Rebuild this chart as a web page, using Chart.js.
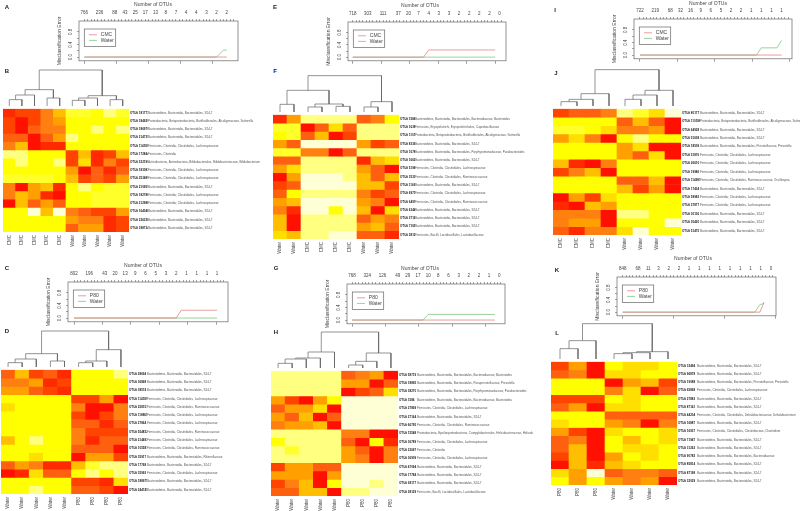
<!DOCTYPE html>
<html>
<head>
<meta charset="utf-8">
<script src="https://cdn.jsdelivr.net/npm/chart.js@4/dist/chart.umd.js"></script>
<style>
html, body { margin: 0; background: #fff; overflow: hidden; }
#page { position: relative; width: 800px; height: 511px; overflow: hidden; }
canvas { position: absolute; }
.letter { position: absolute; font: bold 6px "Liberation Sans"; color: #222; transform: translate(-50%, -50%); }
.otus { position: absolute; font: 5px "Liberation Sans"; color: #444; transform: translate(-50%, -50%); white-space: nowrap; }
</style>
</head>
<body>
<div id="page"></div>
<script>
// heat.colors(12), level 0 is red, level 8 is yellow, level 11 is nearly white
const heatPalette = ['#FF1000', '#FF2A00', '#FF4400', '#FF6010', '#FF8010', '#FF9F00', '#FFBF00', '#FFDF00', '#FFFF00', '#FFFF2A', '#FFFF80', '#FFFFD5'];

const S247 = 'Bacteroidetes, Bacteroidia, Bacteroidales, S24-7';
const LACHNO = 'Firmicutes, Clostridia, Clostridiales, Lachnospiraceae';
const RUMINO = 'Firmicutes, Clostridia, Clostridiales, Ruminococcaceae';
const SUTTER = 'Proteobacteria, Betaproteobacteria, Burkholderiales, Alcaligenaceae, Sutterella';
const BACTER = 'Bacteroidetes, Bacteroidia, Bacteroidales, Bacteroidaceae, Bacteroides';
const LACTO = 'Firmicutes, Bacilli, Lactobacillales, Lactobacillaceae';
const PREVO = 'Bacteroidetes, Bacteroidia, Bacteroidales, Prevotellaceae, Prevotella';
const PARA = 'Bacteroidetes, Bacteroidia, Bacteroidales, Porphyromonadaceae, Parabacteroides';

// misclassification panels: x is the threshold index
const otuAtA = [0, 4.5, 9, 12, 15, 18, 21, 24, 27, 30, 33, 36, 39, 42];
const otuAtE = [0, 4.5, 9, 13.5, 16.5, 19.5, 22.5, 25.5, 28.5, 31.5, 34.5, 37.5, 40.5, 43.5];
const otuAtK = [0, 4.5, 7.5, 10.5, 13.5, 16.5, 19.5, 22.5, 25.5, 28.5, 31.5, 34.5, 37.5, 40.5, 43.5];

const otusA = [766, 236, 88, 43, 25, 17, 13, 8, 7, 4, 4, 3, 2, 2];
const stepsA = [0, 39, 41, 42];
const cmcA = [0, 0, 0, 0];
const waterA = [0, 0, 0.22, 0.22];

const otusC = [802, 196, 43, 20, 13, 9, 6, 5, 3, 2, 1, 1, 1, 1];
const stepsC = [0, 30, 31.5, 42];
const p80C = [0, 0, 0.25, 0.25];
const waterC = [0, 0, 0, 0];

const otusE = [718, 303, 111, 37, 20, 7, 4, 3, 3, 2, 2, 2, 2, 0];
const stepsE = [0, 21, 22.5, 42.2];
const cmcE = [0, 0, 0.235, 0.235];
const waterE = [0, 0, 0, 0];

const otusG = [768, 324, 126, 49, 29, 17, 10, 8, 6, 3, 2, 2, 1, 0];
const stepsG = [0, 21, 22.5, 42.2];
const p80G = [0, 0, 0, 0];
const waterG = [0, 0, 0.18, 0.18];

const otusI = [722, 219, 68, 32, 16, 9, 6, 5, 2, 2, 1, 1, 1, 1];
const stepsI = [0, 34.6, 36, 40.7, 42];
const cmcI = [0, 0, 0, 0, 0];
const waterI = [0, 0, 0.23, 0.23, 0.47];

const otusK = [848, 68, 11, 3, 2, 2, 1, 1, 1, 1, 1, 1, 1, 1, 0];
const stepsK = [0, 38.8, 40.3, 41.5];
const p80K = [0, 0, 0, 0.33];
const waterK = [0, 0, 0.25, 0.28];

// heatmap B
const samplesB = ['CMC', 'CMC', 'CMC', 'CMC', 'CMC', 'Water', 'Water', 'Water', 'Water', 'Water'];
const idsB = ['OTU# 181777', 'OTU# 184920', 'OTU# 186970', 'OTU# 214739', 'OTU# 114180', 'OTU# 172844', 'OTU# 532190', 'OTU# 183083', 'OTU# 253480', 'OTU# 210950', 'OTU# 182786', 'OTU# 212988', 'OTU# 164048', 'OTU# 226338', 'OTU# 188734'];
const taxaB = [S247, SUTTER, S247, S247, LACHNO, 'Firmicutes, Clostridia', 'Actinobacteria, Actinobacteria, Bifidobacteriales, Bifidobacteriaceae, Bifidobacterium', LACHNO, LACHNO, S247, LACHNO, LACHNO, S247, S247, S247];
const levelsB = [
  [1, 2, 2, 4, 6, 9, 9, 8, 10, 9],
  [2, 0, 2, 4, 5, 8, 8, 8, 8, 8],
  [2, 0, 3, 4, 4, 8, 8, 10, 8, 10],
  [3, 3, 0, 3, 5, 10, 8, 8, 8, 8],
  [4, 6, 0, 1, 1, 8, 8, 8, 8, 8],
  [10, 10, 8, 8, 8, 2, 6, 1, 2, 6],
  [8, 10, 8, 8, 10, 2, 7, 1, 4, 2],
  [8, 8, 8, 8, 8, 5, 0, 3, 1, 3],
  [9, 9, 9, 9, 8, 6, 2, 3, 2, 5],
  [4, 0, 5, 6, 1, 8, 10, 8, 9, 9],
  [4, 6, 5, 1, 0, 8, 8, 9, 9, 9],
  [0, 6, 3, 5, 3, 8, 8, 9, 9, 9],
  [8, 8, 11, 6, 11, 4, 3, 2, 2, 5],
  [8, 8, 8, 8, 8, 5, 4, 4, 1, 2],
  [8, 8, 8, 8, 8, 3, 5, 5, 1, 2]
];
const mergesB = [[-1, -2, 19], [1, -3, 33], [-4, -5, 24], [2, 3, 49], [-6, -7, 17], [5, -8, 24], [-9, -10, 19], [6, 7, 31], [4, 8, 108]];

// heatmap D
const samplesD = ['Water', 'Water', 'Water', 'Water', 'Water', 'P80', 'P80', 'P80', 'P80'];
const idsD = ['OTU# 28694', 'OTU# 36868', 'OTU# 38574', 'OTU# 114181', 'OTU# 258151', 'OTU# 118861', 'OTU# 27864', 'OTU# 554832', 'OTU# 214497', 'OTU# 105581', 'OTU# 35917', 'OTU# 17768', 'OTU# 35993', 'OTU# 188975', 'OTU# 244745'];
const taxaD = [S247, S247, S247, LACHNO, RUMINO, LACHNO, LACHNO, RUMINO, LACHNO, RUMINO, 'Bacteroidetes, Bacteroidia, Bacteroidales, Rikenellaceae', S247, LACHNO, S247, S247];
const levelsD = [
  [3, 6, 2, 3, 1, 8, 8, 8, 10],
  [4, 4, 5, 1, 2, 8, 8, 8, 8],
  [5, 5, 3, 2, 1, 8, 8, 8, 8],
  [8, 8, 8, 8, 8, 2, 2, 5, 0],
  [7, 8, 8, 8, 8, 4, 0, 0, 4],
  [8, 8, 8, 8, 8, 2, 0, 2, 4],
  [8, 8, 8, 8, 8, 3, 3, 1, 3],
  [8, 8, 8, 8, 8, 4, 2, 2, 2],
  [6, 8, 10, 8, 8, 4, 1, 3, 3],
  [8, 8, 8, 8, 8, 3, 3, 3, 0],
  [8, 8, 7, 8, 8, 0, 5, 5, 2],
  [3, 5, 4, 1, 1, 6, 9, 10, 10],
  [0, 1, 7, 3, 3, 8, 10, 8, 10],
  [8, 8, 8, 8, 8, 2, 2, 1, 7],
  [8, 8, 10, 8, 8, 3, 3, 2, 0]
];
const mergesD = [[-1, -2, 13], [1, -3, 24], [-4, -5, 18], [2, 3, 40], [-6, -7, 13], [5, -8, 18], [6, -9, 52], [4, 7, 108]];

// heatmap F
const samplesF = ['Water', 'Water', 'CMC', 'CMC', 'CMC', 'CMC', 'Water', 'Water', 'Water'];
const idsF = ['OTU# 1584', 'OTU# 16387', 'OTU# 110186', 'OTU# 83360', 'OTU# 167874', 'OTU# 16628', 'OTU# 51948', 'OTU# 35301', 'OTU# 11662', 'OTU# 69711', 'OTU# 64970', 'OTU# 63448', 'OTU# 27164', 'OTU# 71658', 'OTU# 28129'];
const taxaF = [BACTER, 'Firmicutes, Erysipelotrichi, Erysipelotrichales, Coprobacillaceae', SUTTER, S247, PARA, S247, LACHNO, RUMINO, S247, LACHNO, RUMINO, S247, S247, S247, LACTO];
const levelsF = [
  [1, 5, 10, 10, 10, 10, 3, 4, 8],
  [9, 9, 0, 3, 7, 3, 10, 10, 10],
  [8, 9, 3, 6, 0, 2, 10, 10, 10],
  [5, 3, 11, 11, 11, 11, 5, 2, 3],
  [9, 9, 4, 4, 0, 3, 10, 10, 10],
  [3, 3, 10, 10, 10, 10, 1, 6, 7],
  [5, 7, 10, 10, 10, 10, 5, 3, 0],
  [0, 5, 11, 11, 11, 10, 6, 3, 6],
  [2, 3, 11, 11, 11, 11, 6, 6, 2],
  [3, 8, 10, 10, 10, 10, 4, 2, 3],
  [5, 6, 11, 11, 11, 11, 5, 4, 0],
  [4, 1, 11, 11, 8, 11, 6, 0, 7],
  [6, 0, 10, 10, 10, 10, 3, 5, 4],
  [6, 0, 10, 10, 10, 10, 5, 6, 3],
  [7, 6, 10, 10, 11, 11, 3, 3, 1]
];
const mergesF = [[-1, -2, 23], [-3, -4, 15], [-5, -6, 17], [2, 3, 24], [1, 4, 65], [-7, -8, 15], [6, -9, 31], [5, 7, 109]];

// heatmap H
const samplesH = ['Water', 'Water', 'Water', 'Water', 'Water', 'P80', 'P80', 'P80', 'P80'];
const idsH = ['OTU# 58719', 'OTU# 18895', 'OTU# 38270', 'OTU# 1584', 'OTU# 27869', 'OTU# 27164', 'OTU# 66795', 'OTU# 15548', 'OTU# 36789', 'OTU# 23697', 'OTU# 36909', 'OTU# 47094', 'OTU# 17784', 'OTU# 28177', 'OTU# 28129'];
const taxaH = [BACTER, 'Bacteroidetes, Bacteroidia, Bacteroidales, Paraprevotellaceae, Prevotella', PARA, BACTER, LACHNO, S247, RUMINO, 'Proteobacteria, Epsilonproteobacteria, Campylobacterales, Helicobacteraceae, Helicobacter', LACHNO, 'Firmicutes, Clostridia', LACHNO, S247, S247, S247, LACTO];
const levelsH = [
  [10, 10, 10, 10, 10, 3, 4, 5, 0],
  [10, 10, 10, 10, 10, 5, 5, 0, 3],
  [10, 10, 10, 10, 10, 0, 2, 3, 7],
  [5, 2, 0, 5, 8, 11, 11, 11, 11],
  [3, 5, 5, 7, 0, 11, 11, 11, 11],
  [5, 3, 6, 0, 3, 11, 11, 11, 11],
  [4, 5, 5, 6, 0, 11, 11, 11, 11],
  [10, 10, 10, 10, 10, 4, 4, 0, 0],
  [8, 10, 10, 10, 10, 3, 0, 8, 1],
  [10, 9, 10, 10, 10, 5, 3, 0, 4],
  [10, 10, 10, 10, 10, 5, 4, 0, 4],
  [2, 5, 5, 3, 3, 11, 11, 11, 11],
  [5, 5, 5, 0, 5, 11, 11, 11, 11],
  [2, 4, 6, 0, 8, 11, 11, 10, 11],
  [3, 3, 6, 6, 0, 10, 10, 11, 11]
];
const mergesH = [[-1, -2, 14], [1, -3, 27], [2, -4, 30], [3, -5, 48], [-6, -7, 9], [5, -8, 20], [6, -9, 45], [4, 7, 108]];

// heatmap J
const samplesJ = ['CMC', 'CMC', 'CMC', 'CMC', 'Water', 'Water', 'Water', 'Water'];
const idsJ = ['OTU# 80177', 'OTU# 110186', 'OTU# 64928', 'OTU# 51608', 'OTU# 18509', 'OTU# 51876', 'OTU# 26610', 'OTU# 19986', 'OTU# 114997', 'OTU# 17404', 'OTU# 59983', 'OTU# 27877', 'OTU# 30136', 'OTU# 30420', 'OTU# 51475'];
const taxaJ = [S247, SUTTER, S247, S247, PREVO, LACHNO, LACHNO, LACHNO, 'Firmicutes, Clostridia, Clostridiales, Ruminococcaceae, Oscillospira', S247, LACHNO, LACHNO, S247, S247, S247];
const levelsJ = [
  [2, 3, 3, 4, 10, 9, 7, 11],
  [8, 8, 8, 8, 3, 6, 3, 0],
  [9, 9, 8, 7, 4, 4, 5, 0],
  [5, 7, 4, 0, 8, 10, 8, 8],
  [8, 8, 8, 8, 5, 7, 0, 0],
  [8, 8, 8, 8, 5, 3, 7, 0],
  [6, 1, 0, 4, 8, 8, 8, 8],
  [2, 4, 6, 0, 8, 8, 8, 8],
  [8, 8, 8, 8, 3, 3, 6, 0],
  [8, 8, 8, 8, 6, 2, 5, 0],
  [0, 5, 2, 7, 8, 8, 8, 8],
  [1, 0, 6, 5, 8, 8, 8, 8],
  [4, 4, 4, 0, 10, 10, 8, 8],
  [4, 5, 5, 0, 8, 8, 8, 11],
  [3, 1, 4, 4, 7, 11, 8, 8]
];
const mergesJ = [[-1, -2, 13], [1, -3, 20], [2, -4, 37], [-5, -6, 20], [4, -7, 33], [5, -8, 47], [3, 6, 109]];

// heatmap L
const samplesL = ['P80', 'P80', 'P80', 'Water', 'Water', 'Water', 'Water'];
const idsL = ['OTU# 33494', 'OTU# 96878', 'OTU# 19088', 'OTU# 65868', 'OTU# 27883', 'OTU# 87141', 'OTU# 44204', 'OTU# 16887', 'OTU# 16937', 'OTU# 71947', 'OTU# 31262', 'OTU# 90782', 'OTU# 85814', 'OTU# 87198', 'OTU# 32029'];
const taxaL = [S247, S247, PREVO, LACHNO, S247, S247, 'Firmicutes, Clostridia, Clostridiales, Dehalobacteriaceae, Dehalobacterium', S247, 'Firmicutes, Clostridia, Clostridiales, Clostridiaceae, Clostridium', S247, S247, 'Bacteroidetes, Bacteroidia, Bacteroidales, Bacteroidaceae', S247, S247, S247];
const levelsL = [
  [2, 5, 0, 8, 7, 7, 8],
  [3, 4, 0, 7, 7, 8, 8],
  [8, 8, 8, 0, 5, 6, 2],
  [8, 8, 8, 4, 7, 0, 3],
  [2, 2, 2, 8, 7, 8, 8],
  [3, 5, 0, 7, 7, 8, 8],
  [8, 8, 8, 3, 3, 3, 3],
  [7, 8, 8, 5, 4, 0, 4],
  [5, 2, 0, 7, 8, 8, 7],
  [3, 4, 0, 8, 6, 8, 7],
  [3, 6, 0, 8, 7, 7, 8],
  [2, 6, 0, 5, 8, 7, 8],
  [0, 6, 1, 6, 7, 8, 8],
  [7, 5, 11, 3, 4, 4, 3],
  [8, 5, 8, 5, 4, 5, 0]
];
const mergesL = [[-1, -2, 31], [1, -3, 55], [-4, -5, 16], [3, -6, 19], [4, -7, 22], [2, 5, 106]];

const page = document.getElementById('page');
const FONT = '"Liberation Sans", Arial, sans-serif';
const AXIS = '#666';
const RED = '#e87070';
const GREEN = '#70c070';

function addCanvas(left, top, width, height) {
  const c = document.createElement('canvas');
  c.width = width;
  c.height = height;
  c.style.left = left + 'px';
  c.style.top = top + 'px';
  page.appendChild(c);
  return c;
}

function addText(cls, x, y, text) {
  const d = document.createElement('div');
  d.className = cls;
  d.style.left = x + 'px';
  d.style.top = y + 'px';
  d.textContent = text;
  page.appendChild(d);
}

// box round the plot plus the R style legend inside it
const boxAndLegend = {
  id: 'boxAndLegend',
  afterDraw(chart) {
    const { ctx, chartArea: a } = chart;
    ctx.save();
    ctx.strokeStyle = AXIS;
    ctx.lineWidth = 0.7;
    ctx.strokeRect(a.left, a.top, a.right - a.left, a.bottom - a.top);
    const lx = a.left + 5.3, ly = a.top + 8;
    ctx.strokeRect(lx, ly, 31.4, 17.4);
    ctx.font = '5px ' + FONT;
    ctx.textBaseline = 'middle';
    chart.data.datasets.forEach((ds, i) => {
      const y = ly + 5.8 + i * 5.6;
      ctx.strokeStyle = ds.borderColor;
      ctx.beginPath();
      ctx.moveTo(lx + 4.7, y);
      ctx.lineTo(lx + 12.7, y);
      ctx.stroke();
      ctx.fillStyle = '#444';
      ctx.fillText(ds.label, lx + 16.5, y);
    });
    ctx.restore();
  }
};

function errorPanel(box, xRange, bottomAt, otuAt, otus, steps, series) {
  const TOP = 22, LEFT = 24, BOTTOM = 5;
  const canvas = addCanvas(box[0] - LEFT, box[1] - TOP, box[2] + LEFT + 2, box[3] + TOP + BOTTOM);
  const indexTicks = [];
  for (let i = 0; i <= 44; i++) indexTicks.push(i);
  new Chart(canvas, {
    type: 'scatter',
    data: {
      datasets: series.map(s => ({
        label: s.label,
        data: steps.map((x, i) => ({ x: x, y: s.values[i] })),
        xAxisID: 'xTop',
        showLine: true,
        borderColor: s.color,
        borderWidth: 0.7,
        pointRadius: 0,
        tension: 0
      }))
    },
    options: {
      responsive: false,
      animation: false,
      layout: { padding: { right: 2 } },
      plugins: { legend: { display: false }, tooltip: { enabled: false } },
      scales: {
        xTop: {
          axis: 'x', type: 'linear', position: 'top', min: xRange[0], max: xRange[1],
          border: { display: false },
          grid: {
            drawOnChartArea: false, tickLength: 2, tickWidth: 0.6,
            tickColor: c => Number.isInteger(c.tick.value) ? AXIS : 'transparent'
          },
          ticks: {
            autoSkip: false, minRotation: 0, maxRotation: 0, padding: 3.5, color: '#444',
            font: { size: 4.5, family: FONT },
            callback: v => otuAt.includes(v) ? String(otus[otuAt.indexOf(v)]) : ''
          },
          afterBuildTicks: s => {
            s.ticks = [...new Set(indexTicks.concat(otuAt))].sort((a, b) => a - b).map(v => ({ value: v }));
          },
          afterFit: s => { s.height = TOP; }
        },
        x: {
          type: 'linear', position: 'bottom', min: xRange[0], max: xRange[1],
          border: { display: false },
          grid: { drawOnChartArea: false, tickLength: 3, tickWidth: 0.6, tickColor: AXIS },
          ticks: { display: false },
          afterBuildTicks: s => { s.ticks = bottomAt.map(v => ({ value: v })); },
          afterFit: s => { s.height = BOTTOM; }
        },
        y: {
          type: 'linear', position: 'left', min: -0.12, max: 1.15,
          border: { display: false },
          grid: { drawOnChartArea: false, tickLength: 2, tickWidth: 0.6, tickColor: AXIS },
          title: {
            display: true, text: 'Misclassification Error', color: '#444',
            font: { size: 5, family: FONT }, padding: { top: 2, bottom: 0 }
          },
          ticks: {
            autoSkip: false, minRotation: 90, crossAlign: 'center', padding: 3.5, color: '#444',
            font: { size: 4.5, family: FONT },
            callback: v => [0, 0.4, 0.8].includes(v) ? v.toFixed(1) : ''
          },
          afterBuildTicks: s => { s.ticks = [0, 0.2, 0.4, 0.6, 0.8].map(v => ({ value: v })); },
          afterFit: s => { s.width = LEFT; }
        }
      }
    },
    plugins: [boxAndLegend]
  });
}

function heatPanel(box, idWidth, samples, ids, taxa, levels) {
  const BELOW = 20, LABELS = 135;
  const canvas = addCanvas(box[0], box[1], box[2] + LABELS, box[3] + BELOW);
  const rowTicks = s => { s.ticks = levels.map((_, i) => ({ value: i + 0.5 })); };
  const rowAxis = (list, weight, width, bold, color, pad) => ({
    axis: 'y', type: 'linear', position: 'right', weight: weight, min: 0, max: levels.length, reverse: true, stacked: true,
    border: { display: false },
    grid: { display: false, drawTicks: false },
    ticks: {
      autoSkip: false, padding: pad, crossAlign: 'near', color: color,
      font: { size: 3, family: FONT, weight: bold ? 'bold' : 'normal' },
      callback: v => list[Math.floor(v)]
    },
    afterBuildTicks: rowTicks,
    afterFit: s => { s.width = width; }
  });
  new Chart(canvas, {
    type: 'bar',
    data: {
      labels: samples,
      datasets: levels.map(row => ({
        data: row.map(() => 1),
        backgroundColor: row.map(l => heatPalette[l]),
        barPercentage: 1,
        categoryPercentage: 1
      }))
    },
    options: {
      responsive: false,
      animation: false,
      plugins: { legend: { display: false }, tooltip: { enabled: false } },
      scales: {
        x: {
          stacked: true,
          border: { display: false },
          grid: { display: false, drawTicks: false },
          ticks: {
            autoSkip: false, minRotation: 90, maxRotation: 90, padding: 3, color: '#444',
            font: { size: 4.5, family: FONT }
          },
          afterFit: s => { s.height = BELOW; }
        },
        y: rowAxis(ids, 0, idWidth, true, '#222', 1),
        y2: rowAxis(taxa, 1, LABELS - idWidth, false, '#555', 0)
      }
    }
  });
}

function dendrogram(box, samples, merges) {
  const HEIGHT = 37;
  const canvas = addCanvas(box[0], box[1] - HEIGHT, box[2], HEIGHT);
  const nodes = [];
  const place = ref => ref < 0 ? { x: -ref - 0.5, h: 0 } : nodes[ref - 1];
  const datasets = merges.map(m => {
    const a = place(m[0]), b = place(m[1]);
    nodes.push({ x: (a.x + b.x) / 2, h: m[2] });
    return {
      data: [{ x: a.x, y: a.h }, { x: a.x, y: m[2] }, { x: b.x, y: m[2] }, { x: b.x, y: b.h }],
      showLine: true, borderColor: '#666', borderWidth: 0.7, pointRadius: 0, tension: 0
    };
  });
  new Chart(canvas, {
    type: 'scatter',
    data: { datasets: datasets },
    options: {
      responsive: false,
      animation: false,
      plugins: { legend: { display: false }, tooltip: { enabled: false } },
      scales: {
        x: { type: 'linear', min: 0, max: samples.length, display: false },
        y: { type: 'linear', min: 0, max: 111, display: false }
      }
    }
  });
}

errorPanel([79, 21, 159, 41], [-1.56, 45.3], [0, 9.44, 18.88, 28.32, 37.76], otuAtA, otusA, stepsA,
  [{ label: 'CMC', values: cmcA, color: RED }, { label: 'Water', values: waterA, color: GREEN }]);
errorPanel([68, 282, 160, 41], [-1.77, 45.2], [0, 8.36, 16.7, 25.1, 33.4, 41.8], otuAtA, otusC, stepsC,
  [{ label: 'P80', values: p80C, color: RED }, { label: 'Water', values: waterC, color: GREEN }]);
errorPanel([348, 22, 158, 40], [-1.38, 45.4], [0, 8.45, 16.9, 25.3, 33.8, 42.2], otuAtE, otusE, stepsE,
  [{ label: 'CMC', values: cmcE, color: RED }, { label: 'Water', values: waterE, color: GREEN }]);
errorPanel([347, 284, 158, 41], [-1.48, 45.2], [0, 9.87, 19.7, 29.6, 39.5], otuAtE, otusG, stepsG,
  [{ label: 'P80', values: p80G, color: RED }, { label: 'Water', values: waterG, color: GREEN }]);
errorPanel([634, 19, 158, 41], [-1.78, 45.1], [0, 11.1, 22.2, 33.3, 44.4], otuAtA, otusI, stepsI,
  [{ label: 'CMC', values: cmcI, color: RED }, { label: 'Water', values: waterI, color: GREEN }]);
errorPanel([617, 277, 159, 40], [-1.66, 45], [0, 15, 29.9, 44.9], otuAtK, otusK, stepsK,
  [{ label: 'P80', values: p80K, color: RED }, { label: 'Water', values: waterK, color: GREEN }]);

const heatBoxB = [3, 106, 126, 126], heatBoxD = [1, 367, 127, 127], heatBoxF = [273, 112, 126, 127];
const heatBoxH = [271, 368, 127, 128], heatBoxJ = [553, 106, 128, 129], heatBoxL = [551, 359, 126, 126];

heatPanel(heatBoxB, 19, samplesB, idsB, taxaB, levelsB);
heatPanel(heatBoxD, 19, samplesD, idsD, taxaD, levelsD);
heatPanel(heatBoxF, 16, samplesF, idsF, taxaF, levelsF);
heatPanel(heatBoxH, 19, samplesH, idsH, taxaH, levelsH);
heatPanel(heatBoxJ, 19, samplesJ, idsJ, taxaJ, levelsJ);
heatPanel(heatBoxL, 20, samplesL, idsL, taxaL, levelsL);

dendrogram(heatBoxB, samplesB, mergesB);
dendrogram(heatBoxD, samplesD, mergesD);
dendrogram(heatBoxF, samplesF, mergesF);
dendrogram(heatBoxH, samplesH, mergesH);
dendrogram(heatBoxJ, samplesJ, mergesJ);
dendrogram(heatBoxL, samplesL, mergesL);

[[153, 4, 'Number of OTUs'], [143, 265, 'Number of OTUs'], [420, 5, 'Number of OTUs'],
 [420, 268, 'Number of OTUs'], [708, 3, 'Number of OTUs'], [693, 258, 'Number of OTUs']]
  .forEach(t => addText('otus', t[0], t[1], t[2]));

[[7, 7, 'A'], [7, 71, 'B'], [7, 268, 'C'], [7, 331, 'D'], [275, 7, 'E'], [275, 71, 'F'],
 [276, 268, 'G'], [276, 332, 'H'], [555, 10, 'I'], [556, 73, 'J'], [557, 270, 'K'], [557, 333, 'L']]
  .forEach(t => addText('letter', t[0], t[1], t[2]));
</script>
</body>
</html>
